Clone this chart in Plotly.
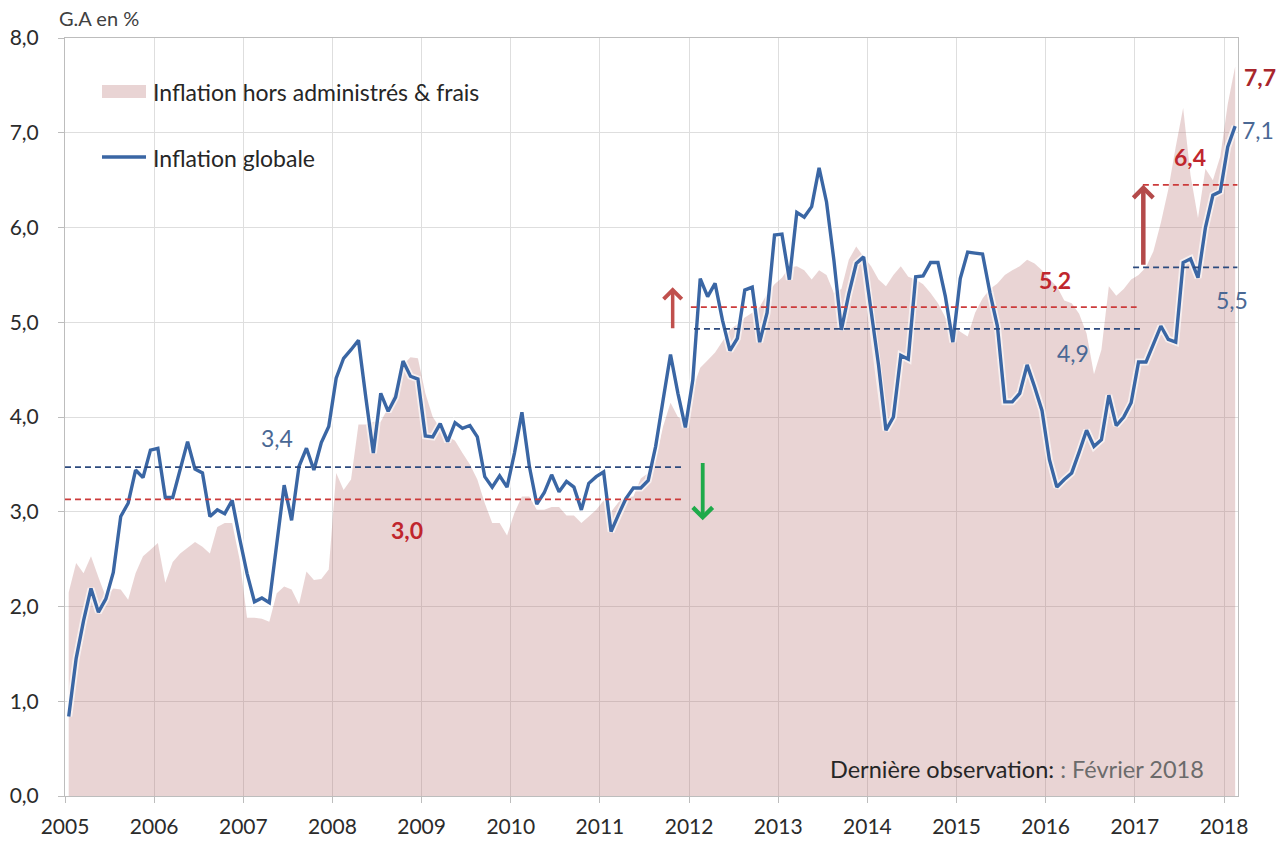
import plotly.graph_objects as go

# ---------------- data ----------------
start_year = 2005
years = list(range(2005, 2019))
year_labels = [str(y) for y in years]
y_ticks = [0, 1, 2, 3, 4, 5, 6, 7, 8]

# Inflation globale (glissement annuel, %), Jan 2005 -> Feb 2018
inflation_globale = [
    0.84, 1.45, 1.85, 2.19, 1.94, 2.08, 2.36, 2.95, 3.09, 3.44, 3.36, 3.65,   # 2005
    3.67, 3.15, 3.15, 3.45, 3.74, 3.45, 3.41, 2.95, 3.02, 2.98, 3.12, 2.72,   # 2006
    2.35, 2.05, 2.09, 2.04, 2.63, 3.28, 2.91, 3.48, 3.67, 3.44, 3.73, 3.90,   # 2007
    4.41, 4.62, 4.71, 4.81, 4.20, 3.62, 4.25, 4.06, 4.21, 4.59, 4.43, 4.40,   # 2008
    3.80, 3.79, 3.93, 3.74, 3.94, 3.88, 3.91, 3.79, 3.37, 3.26, 3.38, 3.26,   # 2009
    3.62, 4.05, 3.48, 3.08, 3.20, 3.39, 3.21, 3.32, 3.26, 3.02, 3.30, 3.37,   # 2010
    3.42, 2.79, 2.97, 3.14, 3.25, 3.25, 3.33, 3.69, 4.18, 4.66, 4.25, 3.89,   # 2011
    4.39, 5.46, 5.27, 5.41, 5.02, 4.70, 4.83, 5.34, 5.37, 4.79, 5.10, 5.92,   # 2012
    5.93, 5.45, 6.16, 6.11, 6.22, 6.63, 6.27, 5.65, 4.92, 5.30, 5.62, 5.69,   # 2013
    5.12, 4.55, 3.86, 4.00, 4.65, 4.61, 5.48, 5.49, 5.63, 5.63, 5.27, 4.79,   # 2014
    5.46, 5.74, 5.73, 5.72, 5.31, 4.96, 4.16, 4.16, 4.25, 4.55, 4.32, 4.07,   # 2015
    3.55, 3.26, 3.34, 3.41, 3.63, 3.86, 3.69, 3.76, 4.23, 3.91, 4.00, 4.15,   # 2016
    4.58, 4.58, 4.77, 4.96, 4.82, 4.79, 5.63, 5.67, 5.47, 6.00, 6.34, 6.38,   # 2017
    6.85, 7.07,                                                               # 2018
]

# Inflation hors administrés & frais
inflation_hors_adm = [
    2.15, 2.46, 2.35, 2.53, 2.31, 2.10, 2.19, 2.18, 2.07, 2.35, 2.53, 2.60,   # 2005
    2.67, 2.25, 2.47, 2.56, 2.62, 2.68, 2.63, 2.56, 2.84, 2.88, 2.88, 2.50,   # 2006
    1.88, 1.88, 1.87, 1.84, 2.14, 2.21, 2.18, 2.02, 2.37, 2.28, 2.29, 2.39,   # 2007
    3.41, 3.23, 3.34, 3.92, 3.92, 3.95, 3.95, 4.10, 4.30, 4.55, 4.63, 4.62,   # 2008
    4.25, 4.00, 3.88, 3.80, 3.75, 3.62, 3.50, 3.34, 3.09, 2.88, 2.88, 2.75,   # 2009
    2.99, 3.16, 3.16, 3.02, 3.02, 3.05, 3.05, 2.96, 2.96, 2.88, 2.95, 3.02,   # 2010
    3.12, 3.00, 3.10, 3.16, 3.16, 3.35, 3.41, 3.55, 3.90, 4.15, 4.00, 3.97,   # 2011
    4.30, 4.52, 4.60, 4.68, 4.80, 4.92, 4.98, 5.05, 5.10, 5.16, 5.30, 5.40,   # 2012
    5.47, 5.58, 5.59, 5.55, 5.45, 5.55, 5.50, 5.31, 5.35, 5.66, 5.80, 5.69,   # 2013
    5.59, 5.45, 5.38, 5.50, 5.59, 5.48, 5.45, 5.40, 5.31, 5.20, 5.05, 4.98,   # 2014
    4.90, 4.85, 5.10, 5.25, 5.35, 5.41, 5.50, 5.55, 5.59, 5.66, 5.62, 5.55,   # 2015
    5.45, 5.38, 5.23, 5.20, 5.09, 4.88, 4.45, 4.71, 5.38, 5.28, 5.35, 5.45,   # 2016
    5.50, 5.58, 5.75, 6.05, 6.40, 6.85, 7.26, 6.55, 6.10, 6.62, 6.50, 6.75,   # 2017
    7.30, 7.70,                                                               # 2018
]

# period averages (dashed lines): level, x-start, x-end, kind
avg_levels = [3.47, 3.13, 5.16, 4.93, 5.58, 6.45]
avg_x0 = [2005.0, 2005.0, 2012.02, 2012.055, 2016.98, 2017.09]
avg_x1 = [2011.93, 2011.92, 2017.02, 2017.06, 2018.15, 2018.15]
avg_kind = ["globale", "hors", "hors", "globale", "globale", "hors"]

# value labels (screen positions converted to plot-area fractions below)
label_texts = ["3,4", "3,0", "5,2", "4,9", "5,5", "6,4", "7,7", "7,1"]
label_px = [277, 407, 1055, 1073, 1232, 1190, 1260, 1258]
label_py = [438, 530, 280, 353, 300, 157, 77, 130]
label_kind = ["globale", "hors", "hors", "globale", "globale", "hors", "hors_dark", "globale"]

# ---------------- styling ----------------
BLUE = "#3A66A4"
BLUE_DASH = "#2C4A7E"
BLUE_TXT = "#4A6894"
RED_DASH = "#CC3B3B"
RED_TXT = "#C0262D"
RED_DARK = "#A8262C"
FILL = "rgba(175,95,95,0.27)"
FONT = "Lato"

W, H = 1280, 841
L, R, T, B = 65, 1238, 38, 796          # plot area in screen pixels
px = lambda v: (v - L) / (R - L)
py = lambda v: (B - v) / (B - T)

x_months = [start_year + (i + 0.5) / 12 for i in range(len(inflation_globale))]

fig = go.Figure()

fig.add_trace(go.Scatter(
    x=x_months, y=inflation_hors_adm, name="Inflation hors administrés & frais",
    mode="none", fill="tozeroy", fillcolor=FILL, showlegend=False,
))
# soft glow under the line
fig.add_trace(go.Scatter(
    x=x_months, y=inflation_globale, mode="lines", hoverinfo="skip",
    line=dict(color="rgba(255,255,255,0.65)", width=7), showlegend=False,
))
fig.add_trace(go.Scatter(
    x=x_months, y=inflation_globale, name="Inflation globale",
    mode="lines", line=dict(color=BLUE, width=3.4), showlegend=False,
))

shapes = []
for lvl, x0, x1, kind in zip(avg_levels, avg_x0, avg_x1, avg_kind):
    shapes.append(dict(
        type="line", xref="x", yref="y", x0=x0, x1=x1, y0=lvl, y1=lvl,
        line=dict(color=BLUE_DASH if kind == "globale" else RED_DASH, width=1.8, dash="6px,4px"),
    ))

# manual legend
shapes.append(dict(type="rect", xref="paper", yref="paper", x0=px(102), x1=px(146),
                   y0=py(98), y1=py(85), fillcolor=FILL, line=dict(width=0)))
shapes.append(dict(type="line", xref="paper", yref="paper", x0=px(102), x1=px(146),
                   y0=py(157), y1=py(157), line=dict(color=BLUE, width=3.4)))

annotations = [
    dict(xref="paper", yref="paper", x=px(151), y=py(92), xanchor="left", yanchor="middle",
         text="Inflation hors administrés & frais", showarrow=False,
         font=dict(family=FONT, size=23, color="#262626")),
    dict(xref="paper", yref="paper", x=px(151), y=py(158), xanchor="left", yanchor="middle",
         text="Inflation globale", showarrow=False,
         font=dict(family=FONT, size=23, color="#262626")),
    dict(xref="paper", yref="paper", x=px(57), y=py(18), xanchor="left", yanchor="middle",
         text="G.A en %", showarrow=False, font=dict(family=FONT, size=20, color="#404040")),
    dict(xref="paper", yref="paper", x=px(1206), y=py(769), xanchor="right", yanchor="middle",
         text="Dernière observation:<span style='color:#6b6b6b'> : Février 2018</span>",
         showarrow=False, font=dict(family=FONT, size=23.5, color="#262626")),
]

for t, lx, ly, k in zip(label_texts, label_px, label_py, label_kind):
    if k == "globale":
        f = dict(family=FONT, size=23, color=BLUE_TXT)
        txt = t
    elif k == "hors":
        f = dict(family=FONT, size=23, color=RED_TXT)
        txt = "<b>" + t + "</b>"
    else:
        f = dict(family=FONT, size=23, color=RED_DARK)
        txt = "<b>" + t + "</b>"
    annotations.append(dict(x=px(lx), y=py(ly), xref="paper", yref="paper", text=txt,
                            showarrow=False, font=f, xanchor="center", yanchor="middle"))

# arrows: x, tail y, tip y, colour, width, size
arrow_specs = [
    (2011.816, 4.92, 5.37, "#C0504D", 3.5, 1.0),
    (2012.153, 3.53, 2.91, "#1FAA4A", 3.8, 1.0),
    (2017.095, 5.59, 6.45, "#B44A4A", 4.5, 0.85),
]
for ax_, y_tail, y_tip, col, w, s in arrow_specs:
    annotations.append(dict(
        x=ax_, y=y_tip, ax=ax_, ay=y_tail, xref="x", yref="y", axref="x", ayref="y",
        text="", showarrow=True, arrowhead=4, arrowsize=s, arrowwidth=w,
        arrowcolor=col, standoff=0, startstandoff=0,
    ))

fig.update_layout(
    width=W, height=H,
    margin=dict(l=L, r=W - R, t=T, b=H - B, autoexpand=False),
    paper_bgcolor="white", plot_bgcolor="white",
    separators=", ",
    shapes=shapes, annotations=annotations,
    showlegend=False,
    font=dict(family=FONT),
)
fig.update_xaxes(
    range=[2005, 2018.157], tickvals=years, ticktext=year_labels,
    showgrid=True, gridcolor="#DEDEDE", gridwidth=1,
    showline=True, linecolor="#BDBDBD", linewidth=1, mirror=True,
    ticks="outside", ticklen=6, tickcolor="#BDBDBD",
    tickfont=dict(family=FONT, size=21, color="#2b2b2b"),
    ticklabelstandoff=6, zeroline=False, automargin=False,
)
fig.update_yaxes(
    range=[0, 8], tickvals=y_ticks, tickformat=".1f",
    showgrid=True, gridcolor="#DEDEDE", gridwidth=1,
    showline=True, linecolor="#BDBDBD", linewidth=1, mirror=True,
    ticks="outside", ticklen=6, tickcolor="#BDBDBD",
    tickfont=dict(family=FONT, size=21, color="#2b2b2b"),
    ticklabelstandoff=15, zeroline=False, automargin=False,
)

# remove the browser's default 8px page margin so the 1280x841 figure fills the window exactly
fig.write_html("out.html", config={"displayModeBar": False},
               post_script="document.body.style.margin='0px';")
